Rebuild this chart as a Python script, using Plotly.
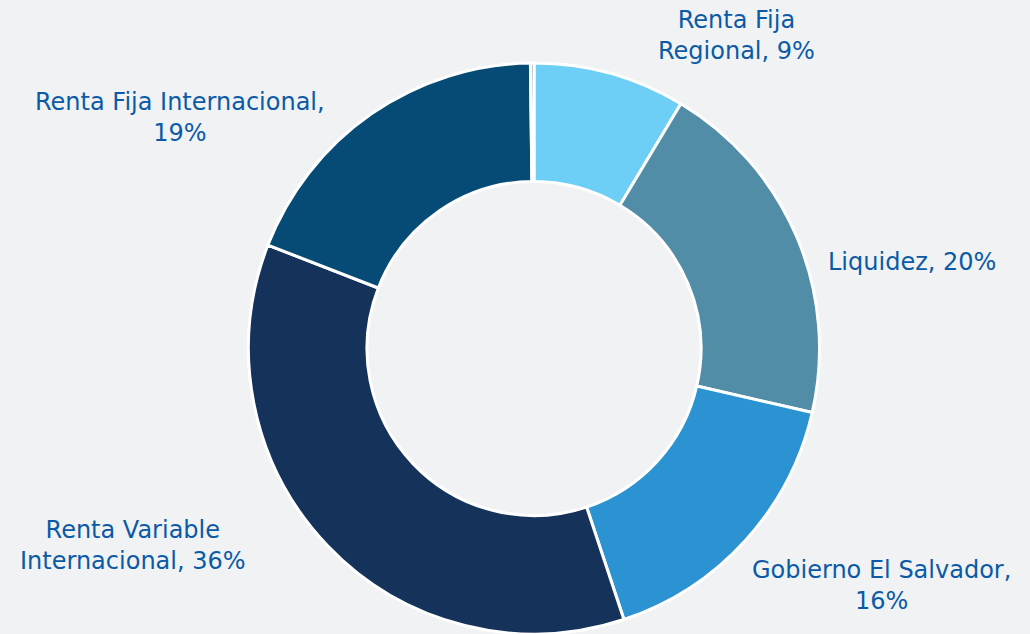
import plotly.graph_objects as go

categories = ["Renta Fija Regional", "Liquidez", "Gobierno El Salvador",
              "Renta Variable Internacional", "Renta Fija Internacional", "Otros"]
values = [8.6, 20.0, 16.3, 36.0, 18.9, 0.2]
label_texts = ["Renta Fija<br>Regional, 9%", "Liquidez, 20%", "Gobierno El Salvador,<br>16%",
               "Renta Variable<br>Internacional, 36%", "Renta Fija Internacional,<br>19%", ""]
colors = ["#6DCFF6", "#528DA8", "#2B93D1", "#15325A", "#064B76", "#8A8F96"]

W, H = 1030, 634
cx, cy_top, r = 534, 349, 286
cy = H - cy_top

fig = go.Figure(go.Pie(
    labels=categories, values=values, sort=False, direction="clockwise",
    rotation=0, hole=0.585, textinfo="none", hoverinfo="label+percent",
    marker=dict(colors=colors, line=dict(color="white", width=3)),
    domain=dict(x=[(cx - r) / W, (cx + r) / W], y=[max(0, (cy - r) / H), (cy + r) / H]),
    showlegend=False,
))

label_pos = [(736, 36), (912, 262), (881, 585), (133, 545), (180, 118)]
for t, (x, y) in zip(label_texts, label_pos):
    fig.add_annotation(x=x / W, y=1 - y / H, xref="paper", yref="paper", text=t,
                       showarrow=False, xanchor="center", yanchor="middle",
                       font=dict(family="DejaVu Sans", size=24, color="#0B5AA6"))

fig.update_layout(width=W, height=H, margin=dict(l=0, r=0, t=0, b=0),
                  paper_bgcolor="#F1F2F4", plot_bgcolor="#F1F2F4")
fig.write_html("out.html", config={"displayModeBar": False},
               post_script="document.body.style.margin='0';document.body.style.overflow='hidden';")
